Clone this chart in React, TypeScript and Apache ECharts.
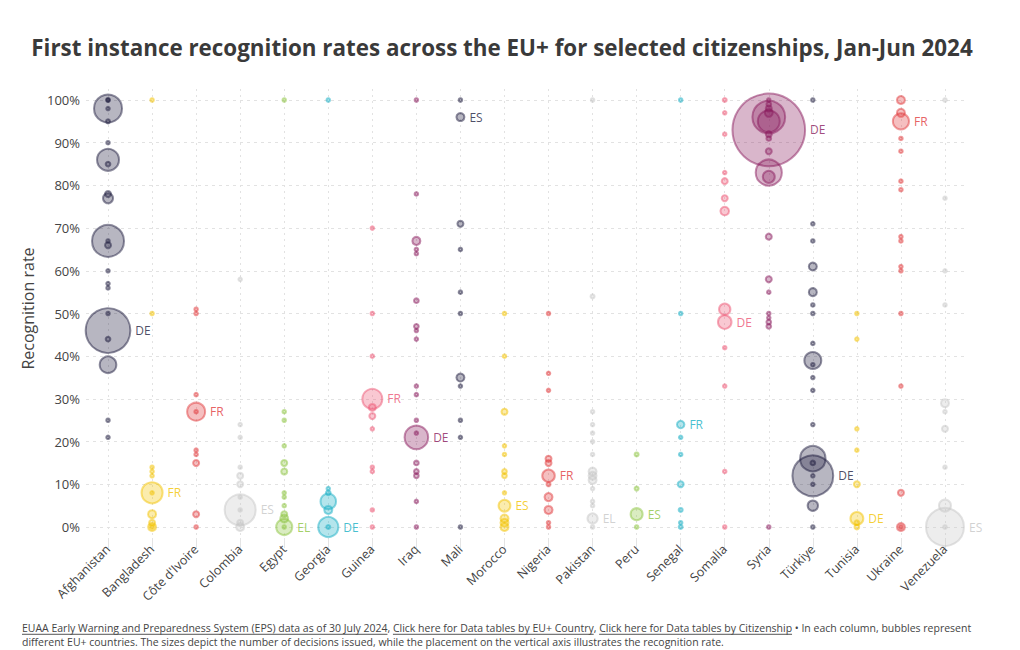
import React, { useEffect, useRef } from "react";
import * as echarts from "echarts";

const titleText =
  "First instance recognition rates across the EU+ for selected citizenships, Jan-Jun 2024";
const yAxisTitle = "Recognition rate";

const citizenships = [
  "Afghanistan", "Bangladesh", "Côte d'Ivoire", "Colombia", "Egypt", "Georgia", "Guinea",
  "Iraq", "Mali", "Morocco", "Nigeria", "Pakistan", "Peru", "Senegal", "Somalia", "Syria",
  "Türkiye", "Tunisia", "Ukraine", "Venezuela",
];

// EU+ country labelled on the largest bubble of each column
const labelCountries = [
  "DE", "FR", "FR", "ES", "EL", "DE", "FR", "DE", "ES", "ES",
  "FR", "EL", "ES", "FR", "DE", "DE", "DE", "DE", "FR", "ES",
];

const palette = ["#1e1d3e", "#f3c300", "#e1393b", "#c6c6c6", "#8cc43f", "#17afc4", "#ec5473", "#8a1b5d"];

// [recognition rate %, decisions issued]
const afghanistan = [
  [100, 30], [100, 60], [98, 4230], [98, 30], [95, 86], [90, 30], [86, 2610], [85, 120],
  [78, 195], [77, 540], [67, 5530], [67, 30], [66, 195], [60, 30], [57, 30], [56, 60],
  [50, 20], [46, 10800], [44, 120], [38, 1500], [25, 30], [21, 60],
];
const bangladesh = [
  [100, 30], [50, 30], [14, 30], [13, 30], [12, 30], [8, 2400], [8, 30], [3, 345],
  [1, 195], [0, 345], [0, 86],
];
const coteDivoire = [
  [51, 30], [50, 30], [31, 30], [27, 1750], [27, 30], [18, 30], [17, 30], [15, 195],
  [3, 195], [0, 60],
];
const colombia = [
  [58, 30], [24, 30], [21, 30], [14, 30], [12, 195], [10, 195], [7, 30], [4, 5200],
  [4, 30], [1, 195], [0, 345],
];
const egypt = [
  [100, 30], [27, 30], [25, 30], [19, 30], [15, 195], [13, 195], [8, 30], [7, 30],
  [5, 30], [3, 195], [2, 345], [0, 1400], [0, 60],
];
const georgia = [
  [100, 30], [9, 60], [8, 120], [6, 1300], [4, 345], [0, 2200], [0, 86],
];
const guinea = [
  [70, 30], [50, 30], [40, 30], [30, 2160], [28, 260], [26, 195], [23, 30], [14, 30],
  [13, 30], [4, 30], [0, 60],
];
const iraq = [
  [100, 30], [78, 30], [67, 345], [65, 60], [64, 60], [53, 120], [47, 120], [46, 60],
  [44, 60], [33, 30], [31, 30], [25, 30], [22, 30], [21, 3000], [15, 120], [13, 120],
  [12, 120], [6, 30], [0, 60],
];
const mali = [
  [100, 30], [96, 345], [71, 195], [65, 30], [55, 30], [50, 30], [35, 345], [33, 30],
  [25, 30], [21, 30], [0, 60],
];
const morocco = [
  [50, 30], [40, 30], [27, 195], [19, 30], [17, 30], [13, 120], [12, 120], [8, 30],
  [5, 760], [2, 345], [1, 345], [0, 345],
];
const nigeria = [
  [50, 30], [36, 30], [32, 30], [16, 195], [15, 195], [12, 850], [10, 86], [7, 345],
  [4, 345], [1, 60], [0, 60],
];
const pakistan = [
  [100, 30], [54, 86], [27, 30], [24, 30], [22, 30], [20, 30], [17, 30], [13, 345],
  [12, 345], [11, 345], [9, 30], [6, 60], [5, 60], [2, 560], [0, 60],
];
const peru = [[17, 86], [9, 86], [3, 780], [0, 30]];
const senegal = [
  [100, 30], [50, 30], [24, 300], [21, 30], [17, 30], [10, 195], [4, 86], [1, 60], [0, 86],
];
const somalia = [
  [100, 86], [97, 30], [92, 30], [83, 30], [81, 195], [77, 195], [74, 400], [51, 700],
  [48, 1000], [42, 30], [33, 30], [13, 30], [0, 60],
];
const syria = [
  [100, 30], [99, 120], [98, 195], [97, 345], [96, 5800], [95, 2610], [93, 28500],
  [92, 195], [91, 120], [88, 195], [83, 3700], [82, 780], [68, 195], [58, 195], [55, 30],
  [50, 30], [49, 30], [48, 120], [47, 120], [0, 60],
];
const turkiye = [
  [100, 30], [71, 30], [67, 30], [61, 345], [55, 345], [52, 30], [50, 30], [43, 30],
  [39, 1550], [38, 30], [35, 30], [32, 60], [24, 30], [16, 3500], [15, 120], [12, 9000],
  [12, 60], [10, 60], [5, 580], [0, 60],
];
const tunisia = [
  [50, 30], [44, 30], [23, 30], [18, 30], [10, 195], [2, 900], [1, 120], [0, 120],
];
const ukraine = [
  [100, 345], [97, 345], [95, 1400], [91, 30], [88, 30], [81, 30], [79, 30], [68, 30],
  [67, 30], [61, 30], [60, 30], [50, 30], [33, 30], [8, 195], [0, 345], [0, 60],
];
const venezuela = [
  [100, 30], [77, 30], [60, 30], [52, 30], [29, 345], [27, 30], [23, 195], [14, 30],
  [5, 780], [0, 7800], [0, 30],
];

const bubbleSets = [
  afghanistan, bangladesh, coteDivoire, colombia, egypt, georgia, guinea, iraq, mali,
  morocco, nigeria, pakistan, peru, senegal, somalia, syria, turkiye, tunisia, ukraine,
  venezuela,
];

const footerLinks = [
  "EUAA Early Warning and Preparedness System (EPS) data as of 30 July 2024",
  "Click here for Data tables by EU+ Country",
  "Click here for Data tables by Citizenship",
];
const footerTail = " • In each column, bubbles represent";
const footerLine2 =
  "different EU+ countries. The sizes depict the number of decisions issued, while the placement on the vertical axis illustrates the recognition rate.";

function rgba(hex: string, a: number) {
  const n = parseInt(hex.slice(1), 16);
  return `rgba(${(n >> 16) & 255},${(n >> 8) & 255},${n & 255},${a})`;
}

const FONT = "'Open Sans', 'Noto Sans', sans-serif";
const FOOT_FONT = "'Liberation Sans Narrow', 'Open Sans', sans-serif";

function buildFooter() {
  const ctx = document.createElement("canvas").getContext("2d") as CanvasRenderingContext2D;
  const segs: { t: string; link: boolean }[] = [
    { t: footerLinks[0], link: true },
    { t: ", ", link: false },
    { t: footerLinks[1], link: true },
    { t: ", ", link: false },
    { t: footerLinks[2], link: true },
    { t: footerTail, link: false },
  ];
  ctx.font = `11px ${FOOT_FONT}`;
  const total = segs.reduce((s, g) => s + ctx.measureText(g.t).width, 0);
  let fs = (11 * 950) / total;
  fs = Math.max(9, Math.min(12, fs));
  ctx.font = `${fs}px ${FOOT_FONT}`;
  const els: any[] = [];
  let x = 22;
  const y1 = 628;
  segs.forEach((g) => {
    const w = ctx.measureText(g.t).width;
    els.push({
      type: "text",
      x,
      y: y1,
      style: { text: g.t, font: `${fs}px ${FOOT_FONT}`, fill: "#444", align: "left", verticalAlign: "middle" },
    });
    if (g.link) {
      els.push({
        type: "line",
        shape: { x1: x, y1: y1 + fs * 0.6, x2: x + w, y2: y1 + fs * 0.6 },
        style: { stroke: "#555", lineWidth: 1 },
      });
    }
    x += w;
  });
  els.push({
    type: "text",
    x: 22,
    y: 642,
    style: { text: footerLine2, font: `${fs}px ${FOOT_FONT}`, fill: "#444", align: "left", verticalAlign: "middle" },
  });
  return els;
}

export default function App() {
  const ref = useRef<HTMLDivElement>(null);
  useEffect(() => {
    document.body.style.margin = "0";
    if (!ref.current) return;
    const chart = echarts.init(ref.current, undefined, { renderer: "svg" });

    const series = citizenships.map((c, i) => {
      const col = palette[i % palette.length];
      const pts = bubbleSets[i].slice().sort((a, b) => b[1] - a[1]);
      return {
        type: "scatter",
        name: c,
        xAxisIndex: 0,
        yAxisIndex: 0,
        clip: false,
        symbolSize: (v: any) => Math.max(3.5, Math.sqrt(v[2]) * 0.43),
        itemStyle: { color: rgba(col, 0.4), borderColor: rgba(col, 0.62), borderWidth: 2 },
        label: {
          show: false,
          position: "right",
          distance: 4,
          color: col,
          fontSize: 12,
          fontFamily: FONT,
        },
        emphasis: { disabled: true },
        data: pts.map((p, j) => ({
          value: [c, p[0], p[1]],
          label: j === 0 ? { show: true, formatter: labelCountries[i] } : undefined,
        })),
      };
    });

    chart.setOption({
      animation: false,
      textStyle: { fontFamily: FONT },
      grid: [
        { left: 86, right: 53, top: 100, bottom: 123 },
        { left: 108, right: 75, top: 89, bottom: 112 },
      ],
      xAxis: [
        {
          type: "category",
          gridIndex: 0,
          data: citizenships,
          boundaryGap: true,
          show: false,
        },
        {
          type: "category",
          gridIndex: 1,
          data: citizenships,
          boundaryGap: false,
          axisLine: { show: false },
          axisTick: { show: true, length: 10, lineStyle: { color: "#e4e4e4" } },
          axisLabel: { rotate: 45, fontSize: 12.5, color: "#444", margin: 9, fontFamily: FONT },
          splitLine: { show: true, lineStyle: { color: "#e2e2e2", type: [2, 4] } },
        },
      ],
      yAxis: [
        {
          type: "value",
          gridIndex: 0,
          min: 0,
          max: 100,
          interval: 10,
          axisLine: { show: false },
          axisTick: { show: false },
          axisLabel: { formatter: "{value}%", fontSize: 13, color: "#444", margin: 6, fontFamily: FONT },
          splitLine: { show: true, lineStyle: { color: "#e2e2e2", type: [3, 4] } },
          name: yAxisTitle,
          nameLocation: "middle",
          nameGap: 37,
          nameTextStyle: { fontSize: 16, color: "#444", fontFamily: FONT, padding: [0, 0, 0, 10] },
        },
        { type: "value", gridIndex: 1, min: 0, max: 1, show: false },
      ],
      graphic: [
        {
          type: "text",
          x: 502,
          y: 47,
          style: {
            text: titleText,
            font: `bold 22.4px ${FONT}`,
            fill: "#3a3a3a",
            align: "center",
            verticalAlign: "middle",
          },
        },
        ...buildFooter(),
      ],
      series,
    });
    return () => chart.dispose();
  }, []);
  return <div ref={ref} style={{ width: 1020, height: 650 }} />;
}
